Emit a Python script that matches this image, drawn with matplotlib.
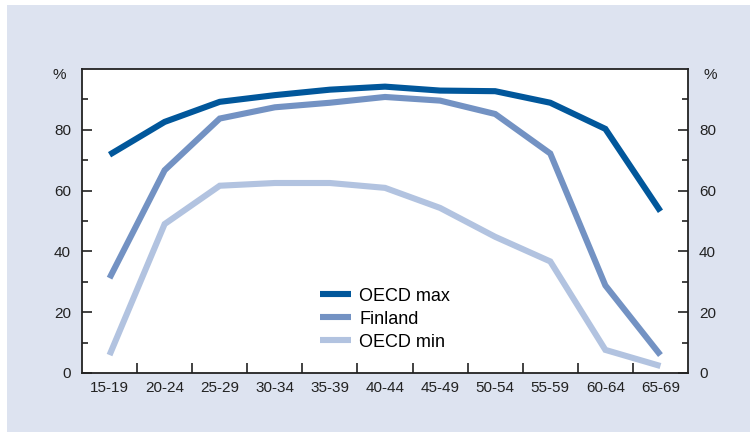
import matplotlib
matplotlib.use('Agg')
import matplotlib.pyplot as plt
from matplotlib.patches import Rectangle

# Données (taux d'emploi par tranche d'âge, %)
age_groups = ['15-19', '20-24', '25-29', '30-34', '35-39', '40-44',
              '45-49', '50-54', '55-59', '60-64', '65-69']
oecd_max = [71.8, 82.6, 89.2, 91.4, 93.2, 94.2, 92.9, 92.7, 88.9, 80.3, 53.2]
finland = [31.2, 66.7, 83.7, 87.4, 88.9, 90.8, 89.6, 85.2, 72.2, 28.8, 5.9]
oecd_min = [5.9, 49.0, 61.6, 62.5, 62.5, 60.9, 54.3, 44.8, 36.7, 7.6, 2.3]

series_labels = ['OECD max', 'Finland', 'OECD min']
colors = ['#01579b', '#7392c3', '#b2c3e0']
bg = '#dde3f0'

plt.rcParams['font.family'] = ['Liberation Sans', 'DejaVu Sans']

fig = plt.figure(figsize=(7.5, 4.32), dpi=100)
fig.patch.set_facecolor('white')
# fond bleu clair du cadre
fig.add_artist(Rectangle((7 / 750, 0), 1, 1 - 5 / 432, transform=fig.transFigure,
                         facecolor=bg, edgecolor='none', zorder=-10))

ax = fig.add_axes([82 / 750, (432 - 373) / 432, 606 / 750, 304 / 432])
ax.set_facecolor('white')

x = list(range(len(age_groups)))
for vals, lab, col in zip([oecd_max, finland, oecd_min], series_labels, colors):
    ax.plot(x, vals, color=col, lw=4.4, label=lab, solid_capstyle='butt',
            solid_joinstyle='miter')

ax.set_xlim(-0.5, len(age_groups) - 0.5)
ax.set_ylim(0, 100)

# axe des x : graduations entre les catégories, étiquettes au centre
ax.set_xticks([i + 0.5 for i in x[:-1]])
ax.set_xticklabels([])
ax.set_xticks(x, minor=True)
ax.set_xticklabels(age_groups, minor=True)
ax.tick_params(axis='x', which='major', direction='in', length=7, width=1.2, color='#222222')
ax.tick_params(axis='x', which='minor', length=0, pad=6, labelsize=11, labelcolor='#222222')

# axe des y des deux côtés
ax.set_yticks([0, 20, 40, 60, 80])
ax.set_yticks([10, 30, 50, 70, 90], minor=True)
ax.tick_params(axis='y', which='both', direction='in', left=True, right=True,
               labelleft=True, labelright=True, color='#222222', width=1.2,
               labelsize=11, labelcolor='#222222', pad=8)
ax.tick_params(axis='y', which='major', length=7)
ax.tick_params(axis='y', which='minor', length=4.5)

for s in ax.spines.values():
    s.set_linewidth(1.3)
    s.set_color('#222222')

tr = ax.get_yaxis_transform()
ax.text(-0.026, 98, '%', transform=tr, ha='right', va='center', fontsize=11, color='#222222')
ax.text(1.026, 98, '%', transform=tr, ha='left', va='center', fontsize=11, color='#222222')

leg = ax.legend(loc='lower center', bbox_to_anchor=(0.5, 0.02), frameon=False,
                fontsize=13, handlelength=1.75, labelspacing=0.33, handletextpad=0.45)

fig.savefig('out.png', dpi=100, facecolor=fig.get_facecolor())
